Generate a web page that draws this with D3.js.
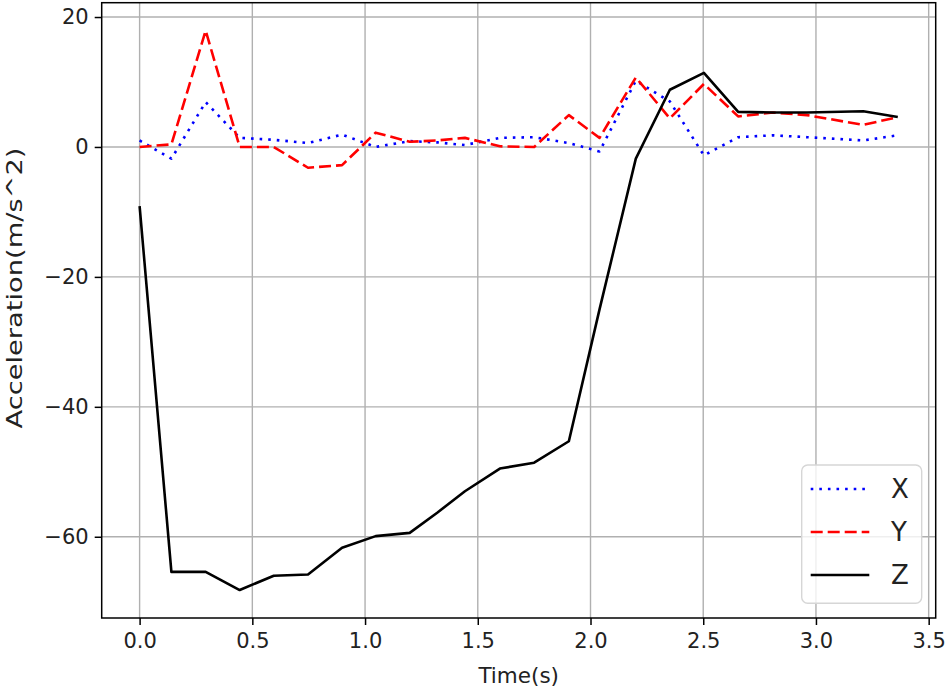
<!DOCTYPE html>
<html>
<head>
<meta charset="utf-8">
<script src="https://cdn.jsdelivr.net/npm/d3@7"></script>
<style>
  html, body { margin: 0; padding: 0; background: #fff; }
  svg { display: block; font-family: "DejaVu Sans", sans-serif; }
</style>
</head>
<body>
<svg id="chart" width="945" height="691"></svg>
<script>
// ---- data ----
const times = [0, 0.141, 0.293, 0.444, 0.595, 0.747, 0.898, 1.047, 1.198, 1.32, 1.443, 1.598, 1.75, 1.904, 2.04, 2.201, 2.352, 2.503, 2.655, 2.81, 2.96, 3.21, 3.363];
const accX = [1.0, -1.8, 6.9, 1.4, 1.1, 0.6, 1.9, 0.0, 0.9, 0.7, 0.3, 1.4, 1.5, 0.6, -0.7, 10.2, 7.0, -1.3, 1.5, 1.8, 1.5, 1.0, 1.8];
const accY = [0, 0.4, 17.9, 0, 0, -3.2, -2.8, 2.2, 0.8, 1.0, 1.4, 0.1, 0, 4.9, 1.4, 10.7, 4.4, 9.7, 4.7, 5.3, 4.9, 3.4, 4.6];
const accZ = [-9.1, -65.4, -65.4, -68.2, -66.0, -65.8, -61.7, -59.9, -59.4, -56.3, -53.0, -49.5, -48.6, -45.3, -25.0, -1.8, 8.8, 11.4, 5.4, 5.3, 5.3, 5.5, 4.6];
const seriesNames = ["X", "Y", "Z"];
const xTicks = [0.0, 0.5, 1.0, 1.5, 2.0, 2.5, 3.0, 3.5];
const yTicks = [20, 0, -20, -40, -60];
const xLabel = "Time(s)";
const yLabel = "Acceleration(m/s^2)";

(function () {
// ---- layout ----
const svg = d3.select("#chart");
const pL = 101.7, pR = 935.7, pT = 2.7, pB = 618;

const tMin = d3.min(times), tMax = d3.max(times);
const tPad = (tMax - tMin) * 0.05;
const allV = accX.concat(accY, accZ);
const vMin = d3.min(allV), vMax = d3.max(allV);
const vPad = (vMax - vMin) * 0.05;

const x = d3.scaleLinear().domain([tMin - tPad, tMax + tPad]).range([pL, pR]);
const y = d3.scaleLinear().domain([vMin - vPad, vMax + vPad]).range([pB, pT]);

const fmtMinus = s => s.replace("-", "\u2212");

// grid
const grid = svg.append("g");
grid.selectAll("line.gx").data(xTicks).join("line").attr("class", "gx")
  .attr("x1", d => x(d)).attr("x2", d => x(d))
  .attr("y1", pT).attr("y2", pB)
  .attr("stroke", "#b0b0b0").attr("stroke-width", 1.4);
grid.selectAll("line.gy").data(yTicks).join("line").attr("class", "gy")
  .attr("y1", d => y(d)).attr("y2", d => y(d))
  .attr("x1", pL).attr("x2", pR)
  .attr("stroke", "#b0b0b0").attr("stroke-width", 1.4);

// lines
const series = [
  { name: seriesNames[0], vals: accX, color: "#0000ff", dash: "2.6,6.0" },
  { name: seriesNames[1], vals: accY, color: "#ff0000", dash: "12,5" },
  { name: seriesNames[2], vals: accZ, color: "#000000", dash: null }
];
svg.append("clipPath").attr("id", "clip").append("rect")
  .attr("x", pL).attr("y", pT).attr("width", pR - pL).attr("height", pB - pT);
const lineGen = vals => d3.line().x((d, i) => x(times[i])).y(d => y(d))(vals);
svg.append("g").attr("clip-path", "url(#clip)")
  .selectAll("path").data(series).join("path")
  .attr("d", s => lineGen(s.vals))
  .attr("fill", "none")
  .attr("stroke", s => s.color)
  .attr("stroke-width", 2.6)
  .attr("stroke-linejoin", "round")
  .attr("stroke-dasharray", s => s.dash);

// axes
const xAxis = d3.axisBottom(x).tickValues(xTicks).tickFormat(d3.format(".1f")).tickSize(7).tickPadding(8);
const yAxis = d3.axisLeft(y).tickValues(yTicks).tickFormat(d => fmtMinus(String(d))).tickSize(7).tickPadding(6);
const gx = svg.append("g").attr("transform", `translate(0,${pB})`).call(xAxis);
const gy = svg.append("g").attr("transform", `translate(${pL},0)`).call(yAxis);
[gx, gy].forEach(g => {
  g.select(".domain").remove();
  g.selectAll(".tick line").attr("stroke", "#000").attr("stroke-width", 1.5);
  g.selectAll(".tick text").attr("fill", "#222").style("font-size", "21px").style("font-family", "DejaVu Sans");
});

// spines
svg.append("rect").attr("x", pL).attr("y", pT).attr("width", pR - pL).attr("height", pB - pT)
  .attr("fill", "none").attr("stroke", "#000").attr("stroke-width", 1.5);

// axis labels
svg.append("text").attr("x", (pL + pR) / 2).attr("y", 683)
  .attr("text-anchor", "middle").attr("fill", "#222").style("font-size", "21.5px").text(xLabel);
svg.append("text").attr("transform", `translate(22,288) rotate(-90) scale(1.24,1)`)
  .attr("text-anchor", "middle").attr("fill", "#222").style("font-size", "22px").text(yLabel);

// legend
const lg = svg.append("g");
lg.append("rect").attr("x", 801.7).attr("y", 465).attr("width", 120).attr("height", 138.3)
  .attr("rx", 6).attr("fill", "#fff").attr("fill-opacity", 0.8)
  .attr("stroke", "#d6d6d6").attr("stroke-width", 1.4);
const legY = d3.scalePoint().domain(seriesNames).range([489, 575]);
const items = lg.selectAll("g.item").data(series).join("g").attr("class", "item")
  .attr("transform", s => `translate(0,${legY(s.name)})`);
items.append("line").attr("x1", 810.7).attr("x2", 869.3).attr("y1", 0).attr("y2", 0)
  .attr("stroke", s => s.color).attr("stroke-width", 2.6)
  .attr("stroke-dasharray", s => s.dash);
items.append("text").attr("x", 891).attr("y", 0).attr("dy", "0.36em")
  .attr("fill", "#222").style("font-size", "26px").text(s => s.name);
})();
</script>
</body>
</html>
